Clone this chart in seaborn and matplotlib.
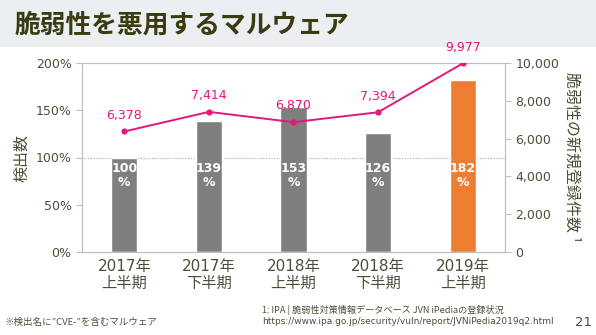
import matplotlib
matplotlib.use("Agg")
import matplotlib.pyplot as plt
from matplotlib.patches import Rectangle
import numpy as np
import pandas as pd
import seaborn as sns

# Data
periods = ["2017年\n上半期", "2017年\n下半期", "2018年\n上半期", "2018年\n下半期", "2019年\n上半期"]
detections_pct = [100, 139, 153, 126, 182]
new_vulns = [6378, 7414, 6870, 7394, 9977]
bar_colors = ["#7f7f7f", "#7f7f7f", "#7f7f7f", "#7f7f7f", "#ed7d31"]
left_ticks = [0, 50, 100, 150, 200]
right_ticks = [0, 2000, 4000, 6000, 8000, 10000]

sns.set_theme(style="white")
# Latin glyphs from DejaVu Sans, Japanese from Noto Sans CJK
plt.rcParams["font.family"] = ["DejaVu Sans", "Noto Sans CJK JP"]
JP = ["Noto Sans CJK JP", "DejaVu Sans"]

TEXT = "#4d4d3a"
TITLE = "#3b3b12"
PINK = "#e2187a"
SPINE = "#bfbfbf"

df = pd.DataFrame({"period": periods, "pct": detections_pct, "vulns": new_vulns})

fig = plt.figure(figsize=(5.96, 3.35), dpi=100)
fig.patch.set_facecolor("white")
fig.add_artist(Rectangle((0, 1 - 47 / 335), 1, 47 / 335, transform=fig.transFigure,
                         facecolor="#eceff1", edgecolor="none", zorder=0))
fig.text(15 / 596, 1 - 25 / 335, "脆弱性を悪用するマルウェア", fontsize=18.5,
         fontweight="bold", color=TITLE, va="center", ha="left", family=JP)

ax = fig.add_axes([82 / 596, 1 - 252 / 335, (505 - 82) / 596, (252 - 63) / 335])
sns.barplot(data=df, x="period", y="pct", hue="period", palette=bar_colors,
            legend=False, width=0.31, ax=ax, saturation=1, zorder=2)
ax.set_ylim(0, 200)
ax.set_yticks(left_ticks)
ax.set_yticklabels([f"{t}%" for t in left_ticks])
ax.axhline(100, color="#a6a6a6", linestyle=(0, (1, 1.5)), linewidth=0.8, zorder=1)
ax.set_xlabel("")
ax.set_ylabel("検出数", fontsize=11.5, color=TEXT, labelpad=4, family=JP)
ax.tick_params(axis="y", colors=SPINE, labelcolor=TEXT, labelsize=9, length=4, width=0.8, left=True)
ax.tick_params(axis="x", labelcolor=TEXT, labelsize=11, length=0, pad=5)
for lbl in ax.get_xticklabels():
    lbl.set_linespacing(1.2)
for s in ax.spines.values():
    s.set_color(SPINE)
    s.set_linewidth(0.8)

for i, v in enumerate(detections_pct):
    ax.text(i, 81, f"{v}\n%", ha="center", va="center", color="white",
            fontsize=9, fontweight="bold", linespacing=1.05, zorder=3)

ax2 = ax.twinx()
xs = np.arange(len(periods))
sns.lineplot(x=xs, y=new_vulns, ax=ax2, color=PINK, linewidth=1.4, marker="o",
             markersize=4.5, markeredgewidth=0, sort=False, zorder=4)
ax2.set_ylim(0, 10000)
ax2.set_yticks(right_ticks)
ax2.set_yticklabels([f"{t:,}" for t in right_ticks])
ax2.tick_params(axis="y", colors=SPINE, labelcolor=TEXT, labelsize=9, length=4, width=0.8, right=True)
ax2.set_ylabel("脆弱性の新規登録件数 ¹", fontsize=11.5, color=TEXT, rotation=270,
               labelpad=15, family=JP)
for s in ax2.spines.values():
    s.set_color(SPINE)
    s.set_linewidth(0.8)
ax2.grid(False)
ax.grid(False)

for x, v in zip(xs, new_vulns):
    ax2.annotate(f"{v:,}", (x, v), xytext=(0, 7), textcoords="offset points",
                 ha="center", va="bottom", color=PINK, fontsize=9)

ax.set_xlim(-0.5, len(periods) - 0.5)

fig.text(5 / 596, 1 - 322 / 335, "※検出名に\u201dCVE-\u201dを含むマルウェア", fontsize=6.8,
         color=TEXT, va="center", ha="left", family=JP)
fig.text(262 / 596, 1 - 310 / 335, "1: IPA | 脆弱性対策情報データベース JVN iPediaの登録状況",
         fontsize=6.6, color=TEXT, va="center", ha="left", family=JP)
fig.text(262 / 596, 1 - 322 / 335, "https://www.ipa.go.jp/security/vuln/report/JVNiPedia2019q2.html",
         fontsize=6.5, color=TEXT, va="center", ha="left")
fig.text(575 / 596, 1 - 322 / 335, "21", fontsize=9.5, color=TEXT, va="center", ha="left")

fig.savefig("out.png", dpi=100)
